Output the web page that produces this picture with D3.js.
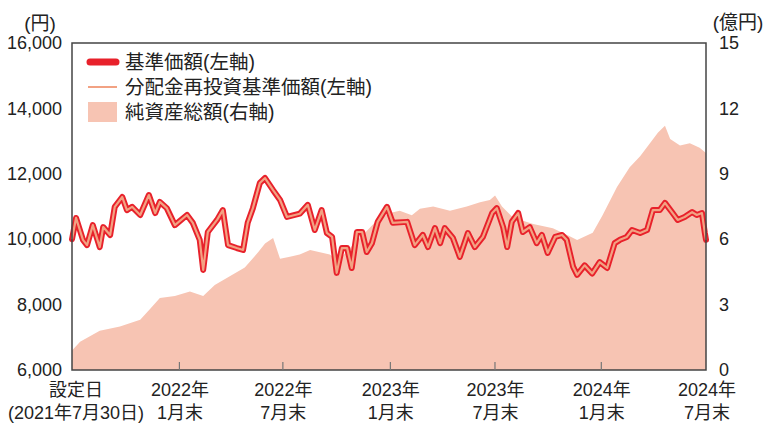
<!DOCTYPE html>
<html><head><meta charset="utf-8">
<script src="https://cdn.jsdelivr.net/npm/d3@7/dist/d3.min.js"></script>
<style>
html,body{margin:0;padding:0;background:#fff;}
svg{display:block;}
text{fill:#222;}
</style></head>
<body>
<svg id="c" width="769" height="425"></svg>
<script>
// ---- data ----
const navDates = ["2021-07-30","2021-08-06","2021-08-18","2021-08-25","2021-09-04","2021-09-16","2021-09-22","2021-10-04","2021-10-12","2021-10-25","2021-11-02","2021-11-11","2021-11-25","2021-12-10","2021-12-21","2021-12-29","2022-01-10","2022-01-24","2022-02-14","2022-02-24","2022-03-08","2022-03-14","2022-03-22","2022-04-07","2022-04-17","2022-04-26","2022-05-11","2022-05-22","2022-05-30","2022-06-08","2022-06-20","2022-06-29","2022-07-13","2022-07-25","2022-08-06","2022-08-28","2022-09-11","2022-09-23","2022-10-05","2022-10-14","2022-10-23","2022-10-31","2022-11-09","2022-11-18","2022-11-26","2022-12-05","2022-12-14","2022-12-22","2022-12-31","2023-01-10","2023-01-26","2023-02-05","2023-03-02","2023-03-15","2023-03-29","2023-04-07","2023-04-19","2023-04-28","2023-05-06","2023-05-20","2023-06-01","2023-06-15","2023-06-27","2023-07-11","2023-07-27","2023-08-04","2023-08-15","2023-08-22","2023-08-30","2023-09-10","2023-09-18","2023-09-30","2023-10-12","2023-10-21","2023-10-31","2023-11-13","2023-11-25","2023-12-03","2023-12-14","2023-12-21","2024-01-03","2024-01-16","2024-01-29","2024-02-11","2024-02-24","2024-03-04","2024-03-16","2024-03-25","2024-04-08","2024-04-20","2024-04-30","2024-05-12","2024-05-21","2024-06-02","2024-06-12","2024-06-24","2024-07-07","2024-07-15","2024-07-24","2024-07-29","2024-07-31"];
const navValues = [10000,10650,9980,9820,10430,9760,10370,10130,10990,11290,10890,10990,10740,11350,10800,11140,10950,10430,10740,10500,9980,9060,10220,10590,10890,9820,9730,9670,10500,10950,11720,11870,11500,11200,10680,10780,11050,10280,10890,10190,10070,8970,9730,9730,9120,10220,10220,9610,9880,10530,10990,10500,10530,9820,10130,9760,10340,9880,10340,10040,9460,10190,9760,10070,10800,10950,10370,9760,10530,10800,10220,10370,9880,10130,9580,10070,10130,9980,9160,8910,9200,8950,9300,9120,9880,9980,10070,10280,10190,10280,10890,10890,11110,10830,10590,10680,10830,10740,10800,10190,9980];
// distribution-reinvested NAV (no distributions paid: same as NAV)
const reinvValues = navValues.slice();

const assetDates = ["2021-07-30","2021-08-13","2021-09-16","2021-10-21","2021-11-25","2021-12-12","2021-12-29","2022-01-24","2022-02-19","2022-03-14","2022-04-03","2022-04-29","2022-05-25","2022-06-17","2022-06-29","2022-07-13","2022-07-25","2022-08-11","2022-08-28","2022-09-15","2022-10-02","2022-10-19","2022-11-02","2022-11-23","2022-12-19","2023-01-10","2023-01-31","2023-02-17","2023-03-10","2023-03-24","2023-04-16","2023-05-15","2023-06-13","2023-07-06","2023-07-23","2023-08-01","2023-08-13","2023-09-01","2023-10-06","2023-11-09","2023-12-03","2023-12-21","2024-01-17","2024-02-03","2024-02-28","2024-03-21","2024-04-08","2024-04-25","2024-05-09","2024-05-21","2024-05-30","2024-06-16","2024-07-03","2024-07-20","2024-07-31"];
const assetValues = [0.9,1.3,1.8,2.0,2.3,2.8,3.3,3.4,3.6,3.4,3.9,4.3,4.7,5.4,5.8,6.05,5.1,5.2,5.3,5.5,5.4,5.3,5.0,5.6,6.3,6.9,7.2,7.3,7.1,7.4,7.5,7.3,7.5,7.7,7.8,8.0,7.5,7.0,6.7,6.5,6.2,5.96,6.3,7.1,8.4,9.3,9.8,10.4,10.9,11.2,10.6,10.3,10.4,10.2,9.95];

const leftTicks = [6000,8000,10000,12000,14000,16000];
const rightTicks = [0,3,6,9,12,15];
const xTickDates = ["2021-07-30","2022-01-31","2022-07-29","2023-01-31","2023-07-31","2024-01-31","2024-07-31"];
const xTickLine1 = ["設定日","2022年","2022年","2023年","2023年","2024年","2024年"];
const xTickLine2 = ["(2021年7月30日)","1月末","7月末","1月末","7月末","1月末","7月末"];
const legendLabels = ["基準価額(左軸)","分配金再投資基準価額(左軸)","純資産総額(右軸)"];

// ---- drawing ----
const parse = d3.timeParse("%Y-%m-%d");
const L = 72, R = 706, T = 43, B = 370;
const svg = d3.select("#c");
const x = d3.scaleTime().domain([parse("2021-07-30"), parse("2024-07-31")]).range([L, R]);
const yL = d3.scaleLinear().domain([6000,16000]).range([B, T]);
const yR = d3.scaleLinear().domain([0,15]).range([B, T]);

const numFont = "'Liberation Sans', Arial, sans-serif";
const jpFont = "'Liberation Sans', 'Noto Sans CJK JP', sans-serif";

const nav = navDates.map((d,i)=>({d:parse(d), v:navValues[i], r:reinvValues[i]}));
const assets = assetDates.map((d,i)=>({d:parse(d), v:assetValues[i]}));

const fillCol = "#f7c4b3", redCol = "#e8212b", thinCol = "#f2a283";

svg.append("path").datum(assets)
  .attr("fill", fillCol)
  .attr("d", d3.area().x(d=>x(d.d)).y0(B).y1(d=>yR(d.v)));

svg.append("path").datum(nav)
  .attr("fill","none").attr("stroke",redCol).attr("stroke-width",6)
  .attr("stroke-linejoin","round").attr("stroke-linecap","round")
  .attr("d", d3.line().x(d=>x(d.d)).y(d=>yL(d.v)));
svg.append("path").datum(nav)
  .attr("fill","none").attr("stroke",thinCol).attr("stroke-width",2.2)
  .attr("stroke-linejoin","round")
  .attr("d", d3.line().x(d=>x(d.d)).y(d=>yL(d.r)));

// frame
svg.append("rect").attr("x",L).attr("y",T).attr("width",R-L).attr("height",B-T)
  .attr("fill","none").attr("stroke","#444").attr("stroke-width",1.5);

// bottom inner ticks
const innerTicks = xTickDates.slice(1, -1).map(parse);
const bAxis = svg.append("g").attr("transform",`translate(0,${B})`)
  .call(d3.axisTop(x).tickValues(innerTicks).tickSize(8).tickFormat(""));
bAxis.select(".domain").remove();
bAxis.selectAll("line").attr("stroke","#777").attr("stroke-width",1.2);

// left axis
const la = svg.append("g").attr("transform",`translate(${L},0)`)
  .call(d3.axisLeft(yL).tickValues(leftTicks).tickSize(0).tickPadding(10).tickFormat(d3.format(",")));
la.select(".domain").remove();
la.selectAll("text").attr("font-family",numFont).attr("font-size",18).attr("fill","#222");

// right axis
const ra = svg.append("g").attr("transform",`translate(${R},0)`)
  .call(d3.axisRight(yR).tickValues(rightTicks).tickSize(0).tickPadding(13));
ra.select(".domain").remove();
ra.selectAll("text").attr("font-family",numFont).attr("font-size",18).attr("fill","#222");

// unit labels
svg.append("text").attr("x",40).attr("y",23).attr("dy","0.36em").attr("text-anchor","middle")
  .attr("font-family",jpFont).attr("font-size",19).text("(円)");
svg.append("text").attr("x",738).attr("y",22).attr("dy","0.36em").attr("text-anchor","middle")
  .attr("font-family",jpFont).attr("font-size",19).text("(億円)");

// bottom labels
xTickDates.forEach((d,i)=>{
  const cx = x(parse(d)) + (i===0 ? 4 : 1);
  svg.append("text").attr("x",cx).attr("y",396).attr("text-anchor","middle")
    .attr("font-family",jpFont).attr("font-size",18).text(xTickLine1[i]);
  svg.append("text").attr("x",cx).attr("y",419).attr("text-anchor","middle")
    .attr("font-family",jpFont).attr("font-size",18).text(xTickLine2[i]);
});

// legend
const lg = svg.append("g");
lg.append("line").attr("x1",90).attr("x2",116).attr("y1",62).attr("y2",62)
  .attr("stroke",redCol).attr("stroke-width",7).attr("stroke-linecap","round");
lg.append("line").attr("x1",88).attr("x2",117).attr("y1",87).attr("y2",87)
  .attr("stroke",thinCol).attr("stroke-width",2);
lg.append("rect").attr("x",88).attr("y",102).attr("width",29).attr("height",20).attr("fill",fillCol);
legendLabels.forEach((t,i)=>{
  lg.append("text").attr("x",125).attr("y",62+25*i).attr("dy","0.36em")
    .attr("font-family",jpFont).attr("font-size",19.5).text(t);
});
</script>
</body></html>
